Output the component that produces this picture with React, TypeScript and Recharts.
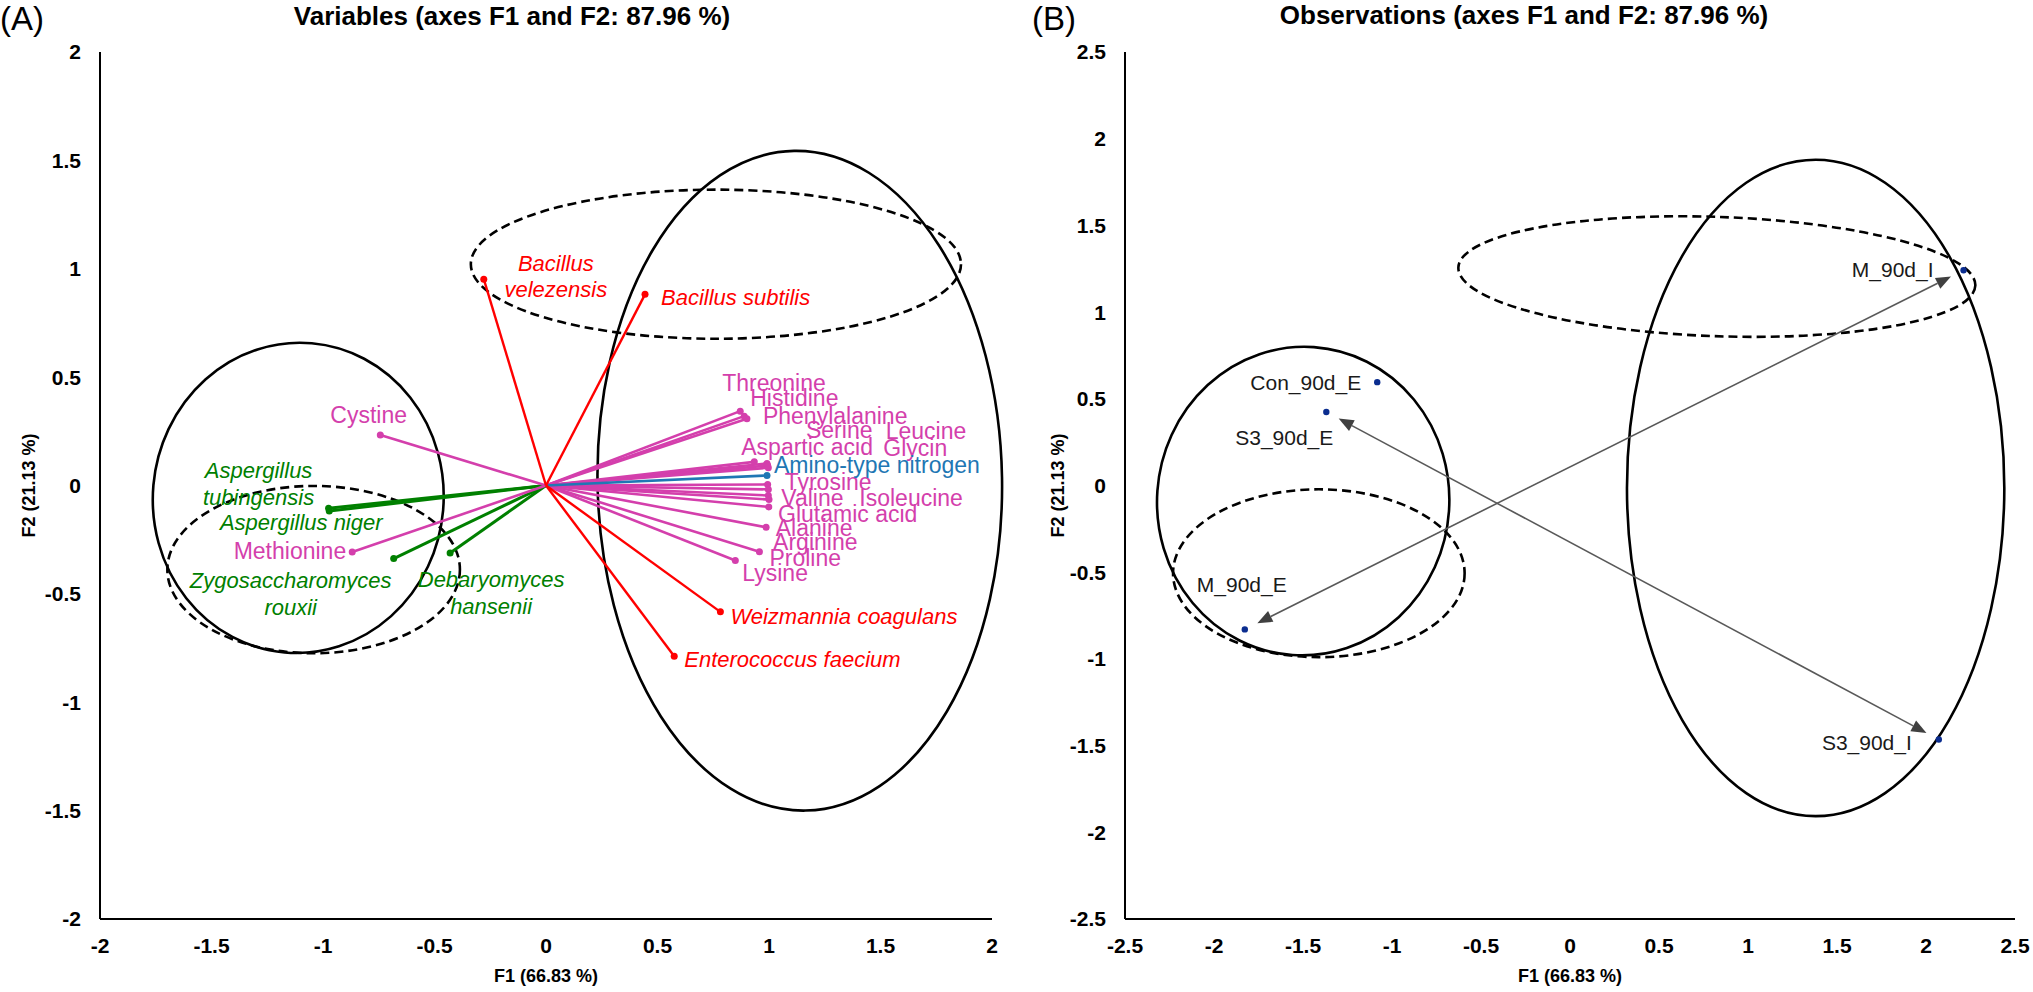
import React from "react";
import { ScatterChart, Scatter, XAxis, YAxis, ReferenceLine, ReferenceArea, Label } from "recharts";

// (A) variables: loadings on F1 / F2
const aminoNames = ["Threonine", "Histidine", "Phenylalanine", "Serine", "Leucine", "Aspartic acid", "Glycin", "Tyrosine", "Valine", "Isoleucine", "Glutamic acid", "Alanine", "Arginine", "Proline", "Lysine", "Cystine", "Methionine"];
const aminoF1 = [0.871, 0.889, 0.901, 0.991, 0.994, 0.934, 0.997, 0.994, 0.997, 0.997, 1.0, 0.999, 0.987, 0.957, 0.849, -0.743, -0.869];
const aminoF2 = [0.343, 0.32, 0.308, 0.102, 0.092, 0.109, 0.082, 0.005, -0.018, -0.046, -0.065, -0.099, -0.193, -0.306, -0.346, 0.233, -0.307];

const nitrogenNames = ["Amino-type nitrogen"];
const nitrogenF1 = [0.991];
const nitrogenF2 = [0.046];

const bacteriaNames = ["Bacillus velezensis", "Bacillus subtilis", "Weizmannia coagulans", "Enterococcus faecium"];
const bacteriaF1 = [-0.279, 0.444, 0.782, 0.575];
const bacteriaF2 = [0.952, 0.882, -0.583, -0.788];

const fungiNames = ["Aspergillus tubingensis", "Aspergillus niger", "Zygosaccharomyces rouxii", "Debaryomyces hansenii"];
const fungiF1 = [-0.975, -0.972, -0.683, -0.43];
const fungiF2 = [-0.105, -0.118, -0.337, -0.311];

// (B) observations
const obsNames = ["Con_90d_E", "S3_90d_E", "M_90d_E", "M_90d_I", "S3_90d_I"];
const obsF1 = [-1.083, -1.369, -1.827, 2.211, 2.072];
const obsF2 = [0.596, 0.424, -0.83, 1.241, -1.465];
const obsArrows = [["M_90d_E", "M_90d_I"], ["S3_90d_E", "S3_90d_I"]];

const ticksA = [-2, -1.5, -1, -0.5, 0, 0.5, 1, 1.5, 2];
const ticksB = [-2.5, -2, -1.5, -1, -0.5, 0, 0.5, 1, 1.5, 2, 2.5];

// group ellipses (centre / radii in axis units)
const ellipsesA = [
  { cx: -1.111, cy: -0.057, rx: 0.652, ry: 0.716, dashed: false, tilt: 5 },
  { cx: -1.042, cy: -0.388, rx: 0.656, ry: 0.386, dashed: true, tilt: 0 },
  { cx: 1.138, cy: 0.022, rx: 0.907, ry: 1.522, dashed: false, tilt: -1 },
  { cx: 0.762, cy: 1.021, rx: 1.099, ry: 0.344, dashed: true, tilt: 0 },
];
const ellipsesB = [
  { cx: -1.499, cy: -0.09, rx: 0.821, ry: 0.89, dashed: false, tilt: 4 },
  { cx: -1.411, cy: -0.506, rx: 0.819, ry: 0.484, dashed: true, tilt: 0 },
  { cx: 1.38, cy: -0.014, rx: 1.06, ry: 1.893, dashed: false, tilt: 0 },
  { cx: 0.825, cy: 1.205, rx: 1.453, ry: 0.344, dashed: true, tilt: 2 },
];

const FONT = "'Liberation Sans', Arial, sans-serif";
const PINK = "#d43fac";
const RED = "#ff0000";
const GREEN = "#008000";
const BLUE = "#1f77b4";

type Place = { dx: number; dy: number; anchor?: "start" | "middle" | "end"; lines?: string[]; lh?: number };

// where each label sits relative to its point (px)
const placeA: Record<string, Place> = {
  Threonine: { dx: -18, dy: -20 },
  Histidine: { dx: 6, dy: -10 },
  Phenylalanine: { dx: 16, dy: 5 },
  Serine: { dx: 39, dy: -25 },
  Leucine: { dx: 118, dy: -27 },
  "Aspartic acid": { dx: -13, dy: -7 },
  Glycin: { dx: 115, dy: -12 },
  "Amino-type nitrogen": { dx: 7, dy: -3 },
  Tyrosine: { dx: 17, dy: 6 },
  Valine: { dx: 13, dy: 17 },
  Isoleucine: { dx: 91, dy: 11 },
  "Glutamic acid": { dx: 9, dy: 22 },
  Alanine: { dx: 7, dy: 29 },
  Arginine: { dx: 7, dy: 23 },
  Proline: { dx: 10, dy: 14 },
  Lysine: { dx: 7, dy: 21 },
  Cystine: { dx: -50, dy: -12 },
  Methionine: { dx: -6, dy: 7, anchor: "end" },
  "Bacillus velezensis": { dx: 72, dy: -8, anchor: "middle", lines: ["Bacillus", "velezensis"], lh: 26 },
  "Bacillus subtilis": { dx: 16, dy: 11 },
  "Weizmannia coagulans": { dx: 10, dy: 12 },
  "Enterococcus faecium": { dx: 10, dy: 11 },
  "Aspergillus tubingensis": { dx: -70, dy: -30, anchor: "middle", lines: ["Aspergillus", "tubingensis"], lh: 27 },
  "Aspergillus niger": { dx: -28, dy: 19, anchor: "middle" },
  "Zygosaccharomyces rouxii": { dx: -103, dy: 29, anchor: "middle", lines: ["Zygosaccharomyces", "rouxii"], lh: 27 },
  "Debaryomyces hansenii": { dx: 41, dy: 34, anchor: "middle", lines: ["Debaryomyces", "hansenii"], lh: 27 },
};
const placeB: Record<string, Place> = {
  Con_90d_E: { dx: -16, dy: 8, anchor: "end" },
  S3_90d_E: { dx: 7, dy: 33, anchor: "end" },
  M_90d_E: { dx: -3, dy: -37, anchor: "middle" },
  M_90d_I: { dx: -30, dy: 7, anchor: "end" },
  S3_90d_I: { dx: -27, dy: 10, anchor: "end" },
};

const toPoints = (names: string[], f1: number[], f2: number[]) =>
  names.map((name, i) => ({ name, x: f1[i], y: f2[i] }));

const aminoData = toPoints(aminoNames, aminoF1, aminoF2);
const nitrogenData = toPoints(nitrogenNames, nitrogenF1, nitrogenF2);
const bacteriaData = toPoints(bacteriaNames, bacteriaF1, bacteriaF2);
const fungiData = toPoints(fungiNames, fungiF1, fungiF2);
const obsData = toPoints(obsNames, obsF1, obsF2);

const pointShape = (color: string, place: Record<string, Place>, size: number, italic: boolean, r: number, textColor?: string) =>
  (props: any) => {
    const { cx, cy, payload } = props;
    const p = place[payload.name] ?? { dx: 8, dy: 6 };
    const lines = p.lines ?? [payload.name];
    const tx = cx + p.dx;
    return (
      <g>
        <circle cx={cx} cy={cy} r={r} fill={color} />
        <text x={tx} y={cy + p.dy} fill={textColor ?? color} fontSize={size} fontFamily={FONT}
          fontStyle={italic ? "italic" : "normal"} textAnchor={p.anchor ?? "start"}>
          {lines.map((t, i) => (
            <tspan key={t} x={tx} dy={i === 0 ? 0 : p.lh}>{t}</tspan>
          ))}
        </text>
      </g>
    );
  };

const ellipseShape = (dashed: boolean, tilt: number) => (props: any) => {
  const { x, y, width, height } = props;
  const cx = x + width / 2;
  const cy = y + height / 2;
  return (
    <ellipse cx={cx} cy={cy} rx={width / 2} ry={height / 2} fill="none" stroke="#000"
      strokeWidth={2.6} strokeDasharray={dashed ? "9 5" : undefined}
      transform={`rotate(${tilt} ${cx} ${cy})`} />
  );
};

const arrowShape = (props: any) => {
  const { x1, y1, x2, y2 } = props;
  const len = Math.hypot(x2 - x1, y2 - y1);
  const ux = (x2 - x1) / len;
  const uy = (y2 - y1) / len;
  const gap = 14, head = 15, half = 6;
  const ax = x1 + ux * gap, ay = y1 + uy * gap;
  const bx = x2 - ux * gap, by = y2 - uy * gap;
  const tri = (tx: number, ty: number, dx: number, dy: number) => {
    const baseX = tx - dx * head, baseY = ty - dy * head;
    return `${tx},${ty} ${baseX - dy * half},${baseY + dx * half} ${baseX + dy * half},${baseY - dx * half}`;
  };
  return (
    <g>
      <line x1={ax + ux * head} y1={ay + uy * head} x2={bx - ux * head} y2={by - uy * head} stroke="#595959" strokeWidth={1.6} />
      <polygon points={tri(ax, ay, -ux, -uy)} fill="#404040" />
      <polygon points={tri(bx, by, ux, uy)} fill="#404040" />
    </g>
  );
};

const tickStyle = { fontFamily: FONT, fontSize: 21, fontWeight: 700, fill: "#000" };

const yTitle = (offset: number) => (p: any) => {
  const vb = p.viewBox;
  const x = vb.x + offset;
  const y = vb.y + vb.height / 2;
  return (
    <text x={x} y={y} transform={`rotate(-90 ${x} ${y})`} textAnchor="middle" dominantBaseline="central"
      fontFamily={FONT} fontSize={18} fontWeight={700} fill="#000">
      F2 (21.13 %)
    </text>
  );
};

const axes = (ticks: number[], yWidth: number, yTitleX: number) => [
  <XAxis key="x" type="number" dataKey="x" domain={[ticks[0], ticks[ticks.length - 1]]} ticks={ticks}
    height={73} tickLine={false} tickSize={0} tickMargin={19} tick={tickStyle}
    axisLine={{ stroke: "#000", strokeWidth: 2 }}>
    <Label value="F1 (66.83 %)" position="insideBottom" offset={10}
      style={{ fontFamily: FONT, fontSize: 18, fontWeight: 700, fill: "#000" }} />
  </XAxis>,
  <YAxis key="y" type="number" dataKey="y" domain={[ticks[0], ticks[ticks.length - 1]]} ticks={ticks}
    width={yWidth} tickLine={false} tickSize={0} tickMargin={19} tick={tickStyle}
    axisLine={{ stroke: "#000", strokeWidth: 2 }}>
    <Label content={yTitle(yTitleX)} />
  </YAxis>,
];

const vectorLines = (data: { x: number; y: number; name: string }[], color: string, width: number) =>
  data.map((d) => (
    <ReferenceLine key={"v" + d.name} segment={[{ x: 0, y: 0 }, { x: d.x, y: d.y }]}
      stroke={color} strokeWidth={width} ifOverflow="visible" />
  ));

const ellipseAreas = (list: typeof ellipsesA, prefix: string) =>
  list.map((e, i) => (
    <ReferenceArea key={prefix + i} x1={e.cx - e.rx} x2={e.cx + e.rx} y1={e.cy - e.ry} y2={e.cy + e.ry}
      ifOverflow="visible" shape={ellipseShape(e.dashed, e.tilt)} />
  ));

const VariablesChart = () => (
  <ScatterChart width={1010} height={992} margin={{ top: 52, right: 18, bottom: 0, left: 0 }}>
    {axes(ticksA, 100, 29)}
    {ellipseAreas(ellipsesA, "ea")}
    {vectorLines(fungiData, GREEN, 3)}
    {vectorLines(aminoData, PINK, 2.6)}
    {vectorLines(nitrogenData, BLUE, 2.6)}
    {vectorLines(bacteriaData, RED, 2.4)}
    <Scatter data={fungiData} isAnimationActive={false} shape={pointShape(GREEN, placeA, 22, true, 3.5)} />
    <Scatter data={aminoData} isAnimationActive={false} shape={pointShape(PINK, placeA, 23, false, 3.5)} />
    <Scatter data={nitrogenData} isAnimationActive={false} shape={pointShape(BLUE, placeA, 23, false, 3.5)} />
    <Scatter data={bacteriaData} isAnimationActive={false} shape={pointShape(RED, placeA, 22, true, 3.5)} />
  </ScatterChart>
);

const ObservationsChart = () => (
  <ScatterChart width={1023} height={992} margin={{ top: 52, right: 18, bottom: 0, left: 0 }}>
    {axes(ticksB, 115, 48)}
    {ellipseAreas(ellipsesB, "eb")}
    {obsArrows.map(([from, to]) => {
      const a = obsData.find((d) => d.name === from)!;
      const b = obsData.find((d) => d.name === to)!;
      return (
        <ReferenceLine key={from + to} segment={[{ x: a.x, y: a.y }, { x: b.x, y: b.y }]}
          ifOverflow="visible" shape={arrowShape} />
      );
    })}
    <Scatter data={obsData} isAnimationActive={false} shape={pointShape("#0b2d8f", placeB, 21, false, 3.2, "#1a1a1a")} />
  </ScatterChart>
);

export default function App() {
  return (
    <div style={{ position: "absolute", left: 0, top: 0, width: 2033, height: 992, background: "#fff" }}>
      <div style={{ position: "absolute", left: 0, top: 0 }}>
        <VariablesChart />
      </div>
      <div style={{ position: "absolute", left: 1010, top: 0 }}>
        <ObservationsChart />
      </div>
      <svg width={2033} height={992} style={{ position: "absolute", left: 0, top: 0, pointerEvents: "none" }}>
        <text x={0} y={30} fontFamily={FONT} fontSize={33} fill="#000">(A)</text>
        <text x={512} y={25} textAnchor="middle" fontFamily={FONT} fontSize={26} fontWeight={700} fill="#000">
          Variables (axes F1 and F2: 87.96 %)
        </text>
        <text x={1032} y={30} fontFamily={FONT} fontSize={33} fill="#000">(B)</text>
        <text x={1524} y={24} textAnchor="middle" fontFamily={FONT} fontSize={26} fontWeight={700} fill="#000">
          Observations (axes F1 and F2: 87.96 %)
        </text>
      </svg>
    </div>
  );
}
